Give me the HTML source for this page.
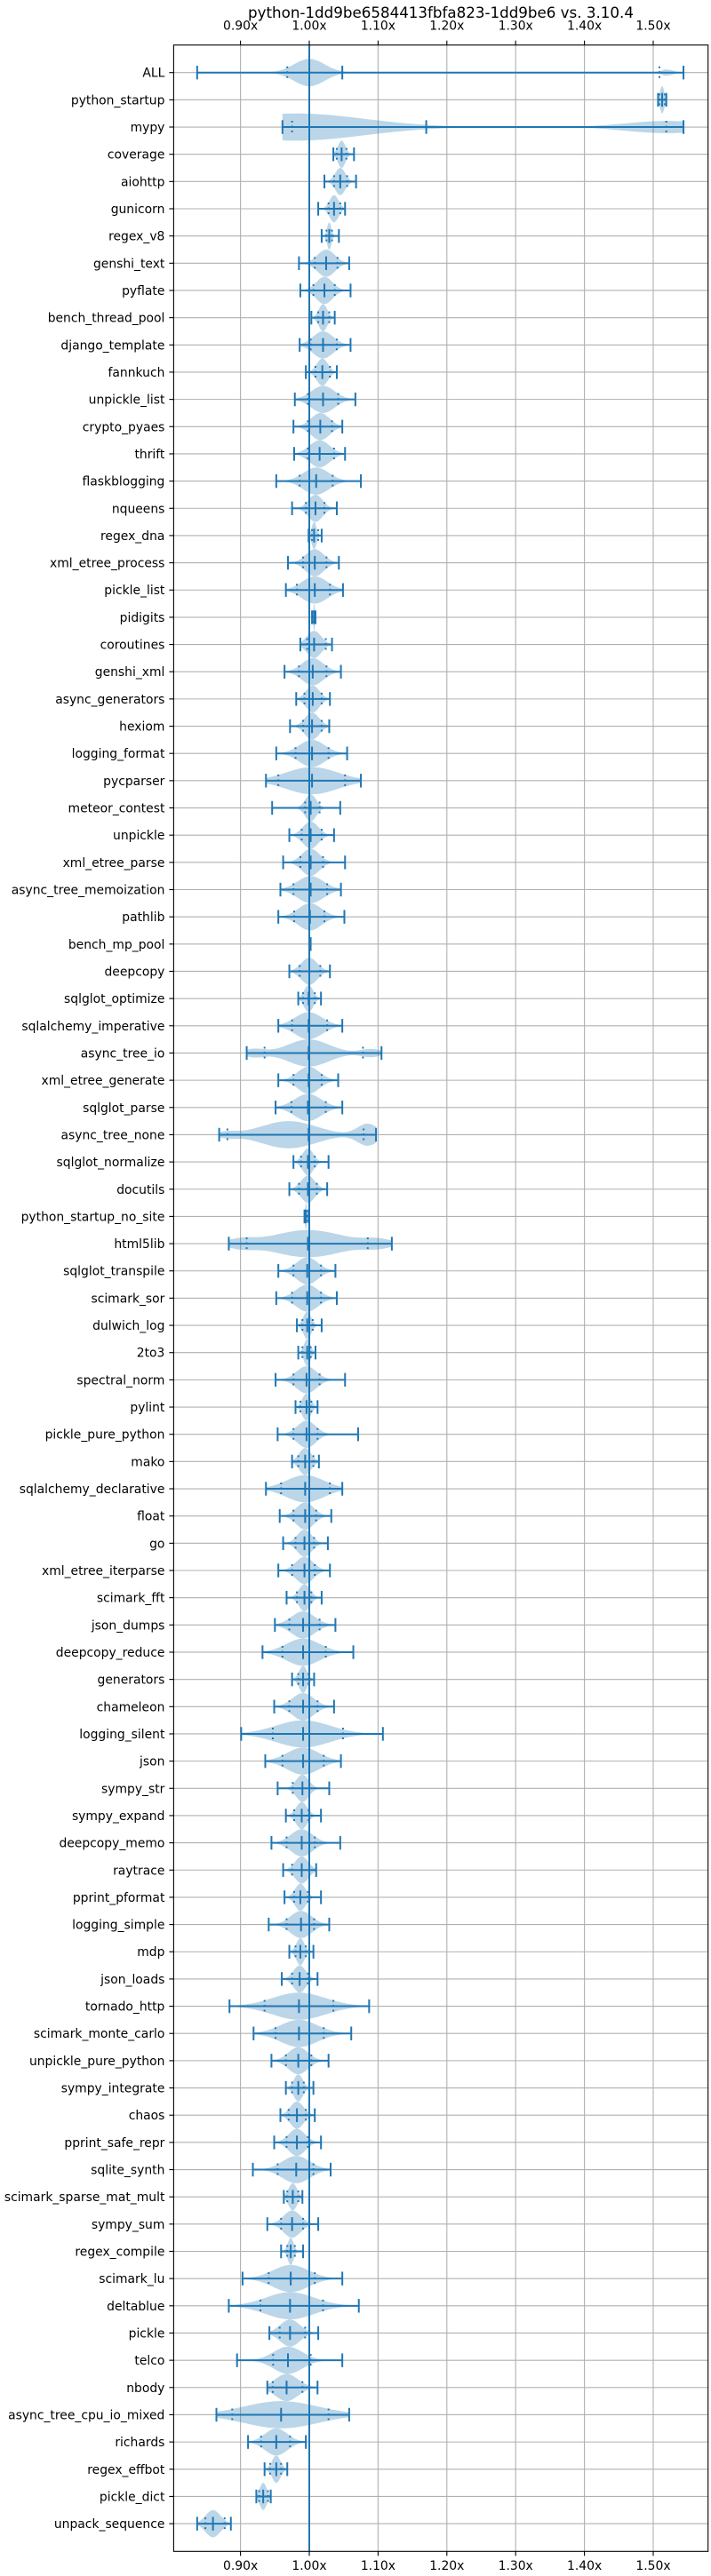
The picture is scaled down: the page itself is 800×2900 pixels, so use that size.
<!DOCTYPE html>
<html><head><meta charset="utf-8">
<style>
html,body{margin:0;padding:0;background:#fff;}
svg{display:block;font-family:"DejaVu Sans","Liberation Sans",sans-serif;}
</style></head>
<body>
<svg id="chart" width="800" height="2900" viewBox="0 0 800 2900" xmlns="http://www.w3.org/2000/svg">
<text x="496" y="20" font-size="16.7" text-anchor="middle" fill="#000">python-1dd9be6584413fbfa823-1dd9be6 vs. 3.10.4</text>
<g id="grid"></g><g id="violins"></g><g id="axes"></g>
</svg>
<script>
const benchmarks = ["ALL","python_startup","mypy","coverage","aiohttp","gunicorn","regex_v8","genshi_text","pyflate","bench_thread_pool","django_template","fannkuch","unpickle_list","crypto_pyaes","thrift","flaskblogging","nqueens","regex_dna","xml_etree_process","pickle_list","pidigits","coroutines","genshi_xml","async_generators","hexiom","logging_format","pycparser","meteor_contest","unpickle","xml_etree_parse","async_tree_memoization","pathlib","bench_mp_pool","deepcopy","sqlglot_optimize","sqlalchemy_imperative","async_tree_io","xml_etree_generate","sqlglot_parse","async_tree_none","sqlglot_normalize","docutils","python_startup_no_site","html5lib","sqlglot_transpile","scimark_sor","dulwich_log","2to3","spectral_norm","pylint","pickle_pure_python","mako","sqlalchemy_declarative","float","go","xml_etree_iterparse","scimark_fft","json_dumps","deepcopy_reduce","generators","chameleon","logging_silent","json","sympy_str","sympy_expand","deepcopy_memo","raytrace","pprint_pformat","logging_simple","mdp","json_loads","tornado_http","scimark_monte_carlo","unpickle_pure_python","sympy_integrate","chaos","pprint_safe_repr","sqlite_synth","scimark_sparse_mat_mult","sympy_sum","regex_compile","scimark_lu","deltablue","pickle","telco","nbody","async_tree_cpu_io_mixed","richards","regex_effbot","pickle_dict","unpack_sequence"];
const mins = [.837,1.507,.961,1.035,1.022,1.013,1.018,.985,.987,1.003,.986,.995,.979,.977,.978,.952,.975,.999,.969,.966,1.004,.987,.964,.981,.972,.952,.937,.946,.971,.962,.958,.955,1.000,.971,.984,.955,.909,.955,.951,.869,.977,.971,.993,.883,.955,.952,.982,.984,.951,.980,.954,.975,.937,.957,.962,.955,.967,.950,.932,.975,.949,.901,.936,.954,.966,.945,.962,.964,.941,.971,.960,.884,.919,.945,.966,.958,.949,.918,.963,.939,.959,.903,.883,.942,.895,.939,.865,.911,.935,.923,.837];
const maxs = [1.544,1.519,1.544,1.065,1.068,1.052,1.043,1.058,1.060,1.037,1.060,1.040,1.067,1.048,1.052,1.075,1.040,1.018,1.043,1.049,1.009,1.033,1.046,1.030,1.029,1.055,1.075,1.045,1.036,1.052,1.046,1.051,1.002,1.030,1.017,1.048,1.105,1.042,1.048,1.097,1.028,1.026,.999,1.120,1.038,1.040,1.018,1.009,1.052,1.012,1.071,1.014,1.048,1.032,1.027,1.030,1.018,1.038,1.064,1.007,1.036,1.107,1.046,1.029,1.017,1.045,1.010,1.017,1.029,1.006,1.012,1.087,1.061,1.028,1.006,1.008,1.017,1.031,.990,1.013,.991,1.048,1.072,1.013,1.048,1.012,1.058,.995,.968,.944,.886];
const medians = [1.048,1.513,1.170,1.047,1.045,1.036,1.029,1.0245,1.022,1.020,1.020,1.019,1.020,1.016,1.015,1.010,1.009,1.007,1.008,1.008,1.007,1.007,1.005,1.005,1.004,1.004,1.004,1.002,1.002,1.002,1.002,1.001,1.001,1.000,.999,.999,.999,.999,.998,.999,.998,.998,.995,.998,.997,.997,.997,.997,.996,.996,.996,.994,.994,.994,.993,.993,.993,.991,.991,.991,.991,.991,.991,.990,.989,.989,.989,.987,.988,.987,.986,.985,.985,.984,.984,.982,.982,.981,.976,.975,.973,.973,.972,.972,.969,.967,.959,.952,.952,.933,.860];
const qLow = [.968,1.509,.975,1.040,1.036,1.028,1.025,1.008,1.006,1.013,1.002,1.009,.998,.998,.998,.986,.995,1.004,.991,.982,1.005,.997,.985,.993,.991,.980,.955,.994,.989,.987,.977,.978,1.0005,.986,.991,.975,.935,.977,.974,.881,.988,.985,.994,.909,.977,.975,.990,.990,.977,.987,.977,.984,.959,.977,.980,.975,.982,.971,.961,.984,.971,.947,.961,.976,.978,.967,.975,.978,.967,.980,.975,.935,.951,.966,.975,.970,.967,.954,.968,.959,.968,.941,.929,.957,.9475,.947,.888,.930,.943,.927,.849];
const qHigh = [1.509,1.517,1.519,1.054,1.055,1.045,1.033,1.041,1.037,1.029,1.040,1.030,1.042,1.033,1.036,1.034,1.022,1.013,1.025,1.030,1.008,1.024,1.025,1.018,1.018,1.028,1.052,1.015,1.018,1.020,1.026,1.022,1.0015,1.016,1.008,1.026,1.078,1.018,1.024,1.079,1.008,1.011,.997,1.085,1.017,1.017,1.005,1.002,1.015,1.003,1.012,1.006,1.030,1.010,1.007,1.008,1.003,1.015,1.024,.999,1.012,1.049,1.021,1.000,.999,1.008,1.000,.998,1.007,.995,.998,1.035,1.021,1.003,.992,.995,.998,1.006,.984,.991,.979,1.008,1.020,.994,1.002,.990,1.028,.972,.959,.940,.877];
// density overrides for multimodal rows: [row, center, sigma, weight]
const densityBumps = [[0,1.0,0.022,1],[0,1.52,0.008,0.25],[2,0.98,0.1,1],[2,1.52,0.06,0.45],[36,0.999,0.03,1],[36,0.92,0.015,0.3],[36,1.09,0.015,0.3],[39,0.97,0.04,1],[39,1.085,0.015,0.8],[39,0.88,0.015,0.2],[43,0.998,0.05,1],[43,0.9,0.02,0.3],[43,1.1,0.02,0.3]];
const xTicks = [0.9,1.0,1.1,1.2,1.3,1.4,1.5];
const xTickLabels = ["0.90x","1.00x","1.10x","1.20x","1.30x","1.40x","1.50x"];

const NS="http://www.w3.org/2000/svg";
const L=195.4,R=796.7,T=50.7,B=2872.3;
const x = v => 348 + (v-1)*774;
const y = i => 81.7 + i*30.66;
const BLUE="#1f77b4";
function mk(tag, attrs, parent){const e=document.createElementNS(NS,tag);for(const k in attrs)e.setAttribute(k,attrs[k]);parent.appendChild(e);return e;}
const gGrid=document.getElementById('grid'),gV=document.getElementById('violins'),gA=document.getElementById('axes');

xTicks.forEach((t,k)=>{
  const gl=mk('line',{x1:x(t),x2:x(t),y1:T,y2:B,stroke:'#b0b0b0','stroke-width':1.1},gGrid);
  
  
  [[T,T-5,33.5],[B,B+5,2893]].forEach(([a,b,ty],j)=>{
    const tk=mk('line',{x1:x(t),x2:x(t),y1:a,y2:b,stroke:'#000','stroke-width':1.1},gA);
    
    
    const tl=mk('text',{x:x(t),y:ty,'font-size':13.9,'text-anchor':'middle',fill:'#000'},gA);
    tl.textContent=xTickLabels[k];
    
    
  });
});
benchmarks.forEach((n,i)=>{
  const gl=mk('line',{x1:L,x2:R,y1:y(i),y2:y(i),stroke:'#b0b0b0','stroke-width':1.1},gGrid);
  
  
  const tk=mk('line',{x1:L-5,x2:L,y1:y(i),y2:y(i),stroke:'#000','stroke-width':1.1},gA);
  
  
  const tl=mk('text',{x:L-10,y:y(i)+5,'font-size':13.9,'text-anchor':'end',fill:'#000'},gA);
  tl.textContent=n;
  
  
});

const HW=15.3;
benchmarks.forEach((n,i)=>{
  const g=mk('g',{},gV);
  
  
  let comps=densityBumps.filter(b=>b[0]===i).map(b=>[b[1],b[2],b[3]]);
  if(!comps.length){comps=[[medians[i],Math.max((qHigh[i]-qLow[i])/2.6,1e-4),1]];}
  const N=80,pts=[];let mx=0;
  for(let k=0;k<=N;k++){const v=mins[i]+(maxs[i]-mins[i])*k/N;let d=0;comps.forEach(c=>{d+=c[2]*Math.exp(-0.5*((v-c[0])/c[1])**2);});pts.push([v,d]);if(d>mx)mx=d;}
  let dp='';
  pts.forEach((p,k)=>{dp+=(k?'L':'M')+x(p[0]).toFixed(2)+','+(y(i)-HW*p[1]/mx).toFixed(2);});
  for(let k=pts.length-1;k>=0;k--){const p=pts[k];dp+='L'+x(p[0]).toFixed(2)+','+(y(i)+HW*p[1]/mx).toFixed(2);}
  const body=mk('path',{d:dp+'Z',fill:BLUE,'fill-opacity':0.3,stroke:'none'},g);
  
  
  const bar=mk('line',{x1:x(mins[i]),x2:x(maxs[i]),y1:y(i),y2:y(i),stroke:BLUE,'stroke-width':2},g);
  
  
  [mins[i],maxs[i],medians[i]].forEach(v=>{
    const c=mk('line',{x1:x(v),x2:x(v),y1:y(i)-7.7,y2:y(i)+7.7,stroke:BLUE,'stroke-width':2},g);
    
    
  });
  [qLow[i],qHigh[i]].forEach(v=>{
    const q=mk('line',{x1:x(v),x2:x(v),y1:y(i)-7,y2:y(i)+7,stroke:BLUE,'stroke-width':2,'stroke-dasharray':'2,3.5'},g);
    
    
  });
});
const ref=mk('line',{x1:x(1),x2:x(1),y1:T,y2:B,stroke:BLUE,'stroke-width':2},gA);


const frame=mk('rect',{x:L,y:T,width:R-L,height:B-T,fill:'none',stroke:'#000','stroke-width':1.1},gA);


</script>
</body></html>
